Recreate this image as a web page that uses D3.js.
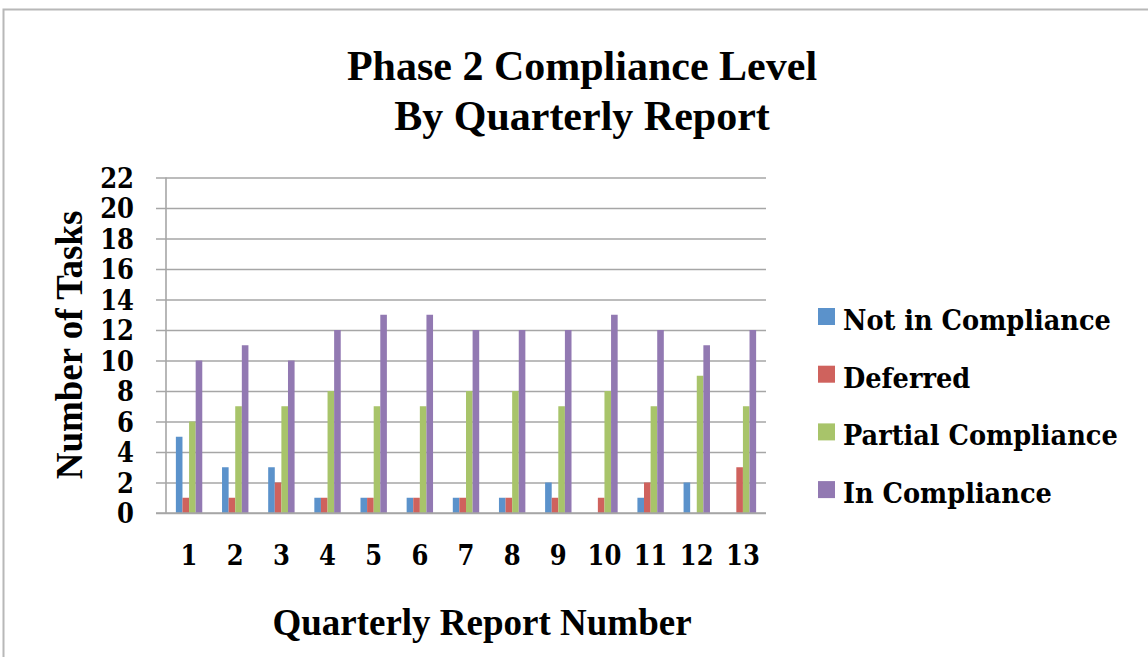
<!DOCTYPE html>
<html>
<head>
<meta charset="utf-8">
<script src="https://cdn.jsdelivr.net/npm/d3@7"></script>
<style>
  body { margin: 0; background: #fff; }
  text { fill: #000; font-weight: bold; }
  .serif { font-family: "Liberation Serif", "Times New Roman", serif; }
  .cond { font-family: "DejaVu Serif Condensed", "DejaVu Serif", serif; font-stretch: condensed; }
</style>
</head>
<body>
<svg id="chart" width="1148" height="657"></svg>
<script>
"use strict";

var quarters = ["1","2","3","4","5","6","7","8","9","10","11","12","13"];
var seriesNames = ["Not in Compliance","Deferred","Partial Compliance","In Compliance"];
var notInCompliance   = [5,3,3,1,1,1,1,1,2,0,1,2,0];
var deferred          = [1,1,2,1,1,1,1,1,1,1,2,0,3];
var partialCompliance = [6,7,7,8,7,7,8,8,7,8,7,9,7];
var inCompliance      = [10,11,10,12,13,13,12,12,12,13,12,11,12];
var yTicks = [0,2,4,6,8,10,12,14,16,18,20,22];
var colors = ["#5b92cb","#cf625d","#a8c46a","#9279b2"];

var seriesValues = [notInCompliance, deferred, partialCompliance, inCompliance];

var svg = d3.select("#chart");

// outer frame (only top and left edges show)
svg.append("path")
  .attr("d", "M3.5,1000 L3.5,9.5 L1200,9.5")
  .attr("fill", "none")
  .attr("stroke", "#b8b8b8")
  .attr("stroke-width", 2);

var plotLeft = 166, plotRight = 766, plotTop = 177.5, plotBottom = 513;

var x0 = d3.scaleBand()
  .domain(quarters)
  .range([plotLeft, plotRight])
  .paddingInner(0.428)
  .paddingOuter(0.214);

var x1 = d3.scaleBand()
  .domain(seriesNames)
  .range([0, x0.bandwidth()]);

var y = d3.scaleLinear()
  .domain([0, 22])
  .range([plotBottom, plotTop]);

// gridlines + y ticks
var yAxis = d3.axisLeft(y)
  .tickValues(yTicks)
  .tickSize(-(plotRight - plotLeft))
  .tickPadding(32)
  .tickFormat(d3.format("d"));

var gy = svg.append("g")
  .attr("transform", "translate(" + plotLeft + ",0)")
  .call(yAxis);
gy.select(".domain").remove();
gy.selectAll(".tick line")
  .attr("x1", -10)
  .attr("stroke", "#a6a6a6")
  .attr("stroke-width", 1.6);
gy.selectAll(".tick text")
  .attr("class", "cond")
  .attr("font-size", 27)
  .attr("dy", "0.36em")
  .style("fill", "#000");

// bars
var groups = svg.append("g").selectAll("g")
  .data(quarters)
  .enter().append("g")
  .attr("transform", function(d) { return "translate(" + x0(d) + ",0)" });

groups.selectAll("rect")
  .data(function(d, i) {
    return seriesNames.map(function(s, k) { return { name: s, k: k, value: seriesValues[k][i] } });
  })
  .enter().append("rect")
  .attr("x", function(d) { return x1(d.name) })
  .attr("width", x1.bandwidth())
  .attr("y", function(d) { return y(d.value) })
  .attr("height", function(d) { return plotBottom - y(d.value) })
  .attr("fill", function(d) { return colors[d.k] });

// y axis line
svg.append("line")
  .attr("x1", plotLeft).attr("x2", plotLeft)
  .attr("y1", plotTop).attr("y2", plotBottom)
  .attr("stroke", "#a6a6a6").attr("stroke-width", 1.6);

// x axis
var xAxis = d3.axisBottom(x0).tickSize(0).tickPadding(0);
var gx = svg.append("g")
  .attr("transform", "translate(0," + plotBottom + ")")
  .call(xAxis);
gx.select(".domain")
  .attr("d", "M" + (plotLeft - 10) + ",0H" + plotRight)
  .attr("stroke", "#a6a6a6")
  .attr("stroke-width", 1.6);
gx.selectAll(".tick text")
  .attr("class", "cond")
  .attr("font-size", 27)
  .attr("dy", null)
  .attr("y", 52)
  .style("fill", "#000");

// titles
var title = svg.append("text")
  .attr("class", "serif")
  .attr("text-anchor", "middle")
  .attr("font-size", 42);
title.append("tspan").attr("x", 582).attr("y", 80).text("Phase 2 Compliance Level");
title.append("tspan").attr("x", 582).attr("y", 130).text("By Quarterly Report");

svg.append("text")
  .attr("class", "serif")
  .attr("text-anchor", "middle")
  .attr("font-size", 37)
  .attr("x", 482).attr("y", 635)
  .text("Quarterly Report Number");

svg.append("text")
  .attr("class", "serif")
  .attr("text-anchor", "middle")
  .attr("font-size", 37)
  .attr("transform", "translate(82,345) rotate(-90)")
  .text("Number of Tasks");

// legend
var legend = svg.append("g").selectAll("g")
  .data(seriesNames)
  .enter().append("g")
  .attr("transform", function(d, i) { return "translate(818," + (320 + i * 57.7) + ")" });
legend.append("rect")
  .attr("x", 0).attr("y", -12)
  .attr("width", 17).attr("height", 17)
  .attr("fill", function(d, i) { return colors[i] });
legend.append("text")
  .attr("class", "cond")
  .attr("font-size", 28.5)
  .attr("x", 25).attr("y", 10)
  .text(function(d) { return d });
</script>
</body>
</html>
